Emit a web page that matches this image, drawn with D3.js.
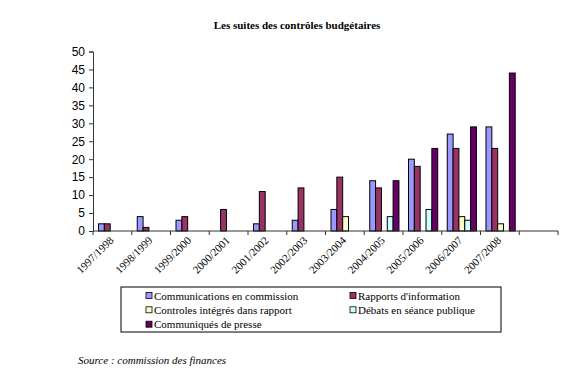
<!DOCTYPE html>
<html><head><meta charset="utf-8">
<script src="https://cdn.jsdelivr.net/npm/d3@7"></script>
<style>body{margin:0;background:#fff}svg{display:block}</style>
</head><body>
<script>
const categories = ["1997/1998","1998/1999","1999/2000","2000/2001","2001/2002","2002/2003","2003/2004","2004/2005","2005/2006","2006/2007","2007/2008",""];
const seriesNames = ["Communications en commission","Rapports d'information","Controles intégrés dans rapport","Débats en séance publique","Communiqués de presse"];
const communications = [2,4,3,0,2,3,6,14,20,27,29,0];
const rapports       = [2,1,4,6,11,12,15,12,18,23,23,0];
const controles      = [0,0,0,0,0,0,4,0,0,4,2,0];
const debats         = [0,0,0,0,0,0,0,4,6,3,0,0];
const communiques    = [0,0,0,0,0,0,0,14,23,29,44,0];
const yTicks = [0,5,10,15,20,25,30,35,40,45,50];
const colors = ["#9999FF","#993366","#FFFFCC","#CCFFFF","#660066"];
const seriesValues = [communications, rapports, controles, debats, communiques];

const SERIF='"Liberation Serif","Times New Roman",Tinos,serif', SANS='"Liberation Sans",Arial,sans-serif';
const W=581,H=390;
const svg=d3.select("body").append("svg").attr("width",W).attr("height",H);
svg.append("rect").attr("width",W).attr("height",H).attr("fill","#fff");

svg.append("text").attr("x",297).attr("y",29).attr("text-anchor","middle")
  .style("font-family",SERIF).style("font-weight","bold").style("font-size","11px")
  .text("Les suites des contrôles budgétaires");

const x=d3.scaleBand().domain(d3.range(categories.length)).range([93,558]).padding(0);
const x1=d3.scaleBand().domain(d3.range(seriesNames.length)).range([5.5,34.7]).padding(0);
const y=d3.scaleLinear().domain([0,50]).range([231,51.5]);

seriesNames.forEach((s,si)=>{
  svg.append("g").selectAll("rect")
    .data(seriesValues[si].map((v,i)=>({v,i})).filter(d=>d.v>0))
    .join("rect")
    .attr("x",d=>x(d.i)+x1(si))
    .attr("y",d=>y(d.v))
    .attr("width",x1.bandwidth())
    .attr("height",d=>y(0)-y(d.v))
    .attr("fill",colors[si])
    .attr("stroke","#000").attr("stroke-width",1);
});

const ya=svg.append("g").attr("transform","translate(93,0)")
  .call(d3.axisLeft(y).tickValues(yTicks).tickSize(4).tickPadding(4));
ya.selectAll("text").style("font-family",SANS).style("font-size","12px").attr("fill","#000");
ya.selectAll("line,path").attr("stroke","#333");

const xa=svg.append("g");
xa.append("line").attr("x1",93).attr("x2",558).attr("y1",y(0)).attr("y2",y(0)).attr("stroke","#333");
xa.selectAll("line.t").data(d3.range(categories.length+1)).join("line").attr("class","t")
  .attr("x1",i=>93+i*x.bandwidth()).attr("x2",i=>93+i*x.bandwidth())
  .attr("y1",y(0)).attr("y2",y(0)+4).attr("stroke","#333");
xa.selectAll("text").data(categories.map((c,i)=>({c,i})).filter(d=>d.c)).join("text")
  .attr("transform",d=>`translate(${x(d.i)+x.bandwidth()/2+2},${y(0)+10}) rotate(-45)`)
  .attr("text-anchor","end").style("font-family",SERIF).style("font-size","11px")
  .text(d=>d.c);

const lg=svg.append("g");
lg.append("rect").attr("x",121).attr("y",287).attr("width",380).attr("height",45)
  .attr("fill","#fff").attr("stroke","#000");
const pos=[[146,296],[350,296],[146,310.3],[350,310.3],[146,324.7]];
seriesNames.forEach((s,i)=>{
  const [lx,ly]=pos[i];
  lg.append("rect").attr("x",lx).attr("y",ly-3.5).attr("width",6).attr("height",6)
    .attr("fill",colors[i]).attr("stroke","#000").attr("stroke-width",0.8);
  lg.append("text").attr("x",lx+8).attr("y",ly+3.5)
    .style("font-family",SERIF).style("font-size","11px").text(s);
});

svg.append("text").attr("x",78).attr("y",364)
  .style("font-family",SERIF).style("font-style","italic").style("font-size","11px")
  .text("Source : commission des finances");
</script>
</body></html>
